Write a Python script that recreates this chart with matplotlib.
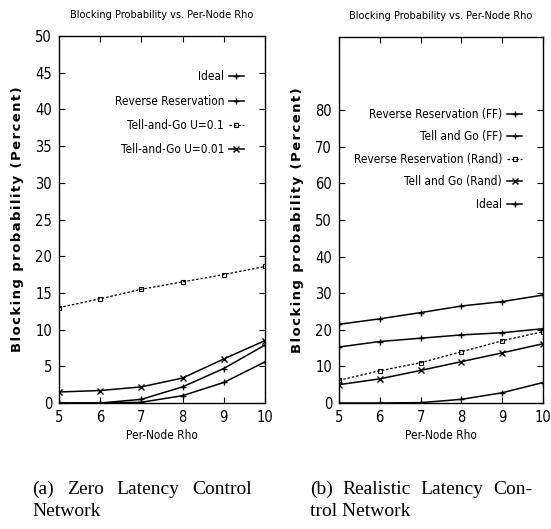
import matplotlib
matplotlib.use("Agg")
import matplotlib.pyplot as plt
from matplotlib import font_manager
from matplotlib.font_manager import FontProperties

rho = [5, 6, 7, 8, 9, 10]

# Panel (a)
a_labels = ["Ideal", "Reverse Reservation", "Tell-and-Go U=0.1", "Tell-and-Go U=0.01"]
a_ideal = [0.0, 0.0, 0.1, 1.0, 2.8, 5.6]
a_rr = [0.0, 0.0, 0.5, 2.2, 4.7, 7.9]
a_tg01 = [13.0, 14.2, 15.5, 16.5, 17.5, 18.6]
a_tg001 = [1.5, 1.7, 2.2, 3.4, 6.0, 8.5]

# Panel (b)
b_labels = ["Reverse Reservation (FF)", "Tell and Go (FF)", "Reverse Reservation (Rand)",
            "Tell and Go (Rand)", "Ideal"]
b_rrff = [21.5, 23.0, 24.7, 26.5, 27.7, 29.5]
b_tgff = [15.3, 16.8, 17.7, 18.6, 19.2, 20.3]
b_rrrand = [6.2, 8.8, 11.0, 14.0, 17.0, 19.5]
b_tgrand = [5.0, 6.6, 8.9, 11.3, 13.7, 16.2]
b_ideal = [0.0, 0.0, 0.1, 1.0, 2.8, 5.6]

captions_a = [["(a)", "Zero", "Latency", "Control"], ["Network"]]
captions_b = [["(b)", "Realistic", "Latency", "Con-"], ["trol Network"]]

names = {f.name for f in font_manager.fontManager.ttflist}
if "Liberation Sans Narrow" in names:
    NARROW = dict(family="Liberation Sans Narrow")
else:
    NARROW = dict(family="DejaVu Sans", stretch="condensed")

def nfp(size):
    return FontProperties(size=size, **NARROW)

fig = plt.figure(figsize=(5.51, 5.29), dpi=100)
W, H = 551, 529
axA = fig.add_axes([59 / W, 1 - 403 / H, 206 / W, 367 / H])
axB = fig.add_axes([339 / W, 1 - 403 / H, 204 / W, 366 / H])

lk = dict(color="black", lw=1.1, markersize=5, mew=1.0)
dk = dict(color="black", lw=0.9, markersize=3.5, mew=0.8, mfc="none", ls=(0, (2, 1.5)))

axA.plot(rho, a_ideal, marker="+", ls="-", label=a_labels[0], **lk)
axA.plot(rho, a_rr, marker="+", ls="-", label=a_labels[1], **lk)
axA.plot(rho, a_tg01, marker="s", label=a_labels[2], **dk)
axA.plot(rho, a_tg001, marker="x", ls="-", label=a_labels[3], **lk)
axA.set_ylim(0, 50)
axA.set_yticks(range(0, 51, 5))

axB.plot(rho, b_rrff, marker="+", ls="-", label=b_labels[0], **lk)
axB.plot(rho, b_tgff, marker="+", ls="-", label=b_labels[1], **lk)
axB.plot(rho, b_rrrand, marker="s", label=b_labels[2], **dk)
axB.plot(rho, b_tgrand, marker="x", ls="-", label=b_labels[3], **lk)
axB.plot(rho, b_ideal, marker="+", ls="-", label=b_labels[4], **lk)
axB.set_ylim(0, 100)
axB.set_yticks(range(0, 81, 10))

ylab = "\u200a".join("Blocking probability (Percent)")

for ax in (axA, axB):
    ax.set_xlim(5, 10)
    ax.set_xticks(rho)
    ax.tick_params(direction="in", length=4, width=0.8, top=True, right=True, pad=5)
    for lab in ax.get_xticklabels() + ax.get_yticklabels():
        lab.set_fontproperties(nfp(10.5))
    for s in ax.spines.values():
        s.set_linewidth(1.0)
    ax.set_title("Blocking Probability vs. Per-Node Rho", fontproperties=nfp(7.8), pad=13)
    ax.set_xlabel("Per-Node Rho", fontproperties=nfp(8.5), labelpad=3)
    ax.set_ylabel(ylab, fontfamily="DejaVu Sans", fontweight="bold", fontsize=9.5,
                  labelpad=8)

axA.legend(loc="upper right", frameon=False, markerfirst=False, prop=nfp(8.5),
           handlelength=1.3, handletextpad=0.4, labelspacing=0.95,
           bbox_to_anchor=(0.95, 0.935))
axB.legend(loc="upper right", frameon=False, markerfirst=False, prop=nfp(8.5),
           handlelength=1.3, handletextpad=0.4, labelspacing=0.8,
           bbox_to_anchor=(0.95, 0.835))

renderer = fig.canvas.get_renderer()
CAP = dict(fontfamily="Liberation Serif", fontsize=14, va="baseline", ha="left")

def justify(words, x0, x1, baseline):
    y = 1 - baseline / H
    texts = [fig.text(0, y, w, **CAP) for w in words]
    widths = [t.get_window_extent(renderer).width for t in texts]
    gap = (x1 - x0 - sum(widths)) / max(len(words) - 1, 1)
    x = x0
    for t, w in zip(texts, widths):
        t.set_x(x / W)
        x += w + gap

def caption(lines, x0, x1):
    justify(lines[0], x0, x1, 494)
    fig.text(x0 / W, 1 - 516 / H, lines[1][0], **CAP)

caption(captions_a, 32, 252)
caption(captions_b, 310, 532)

fig.savefig("out.png", dpi=100)
